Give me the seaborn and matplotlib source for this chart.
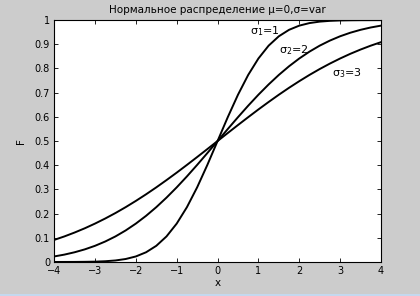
import matplotlib
matplotlib.use("Agg")
import matplotlib.pyplot as plt
import matplotlib.patches as mpatches
import seaborn as sns
import pandas as pd

x_vals = [-4.0, -3.75, -3.5, -3.25, -3.0, -2.75, -2.5, -2.25, -2.0, -1.75, -1.5, -1.25, -1.0, -0.75, -0.5, -0.25,
          0.0, 0.25, 0.5, 0.75, 1.0, 1.25, 1.5, 1.75, 2.0, 2.25, 2.5, 2.75, 3.0, 3.25, 3.5, 3.75, 4.0]
F_sigma1 = [0.0000, 0.0001, 0.0002, 0.0006, 0.0013, 0.0030, 0.0062, 0.0122, 0.0228, 0.0401, 0.0668, 0.1056,
            0.1587, 0.2266, 0.3085, 0.4013, 0.5000, 0.5987, 0.6915, 0.7734, 0.8413, 0.8944, 0.9332, 0.9599,
            0.9772, 0.9878, 0.9938, 0.9970, 0.9987, 0.9994, 0.9998, 0.9999, 1.0000]
F_sigma2 = [0.0228, 0.0304, 0.0401, 0.0521, 0.0668, 0.0846, 0.1056, 0.1303, 0.1587, 0.1908, 0.2266, 0.2660,
            0.3085, 0.3538, 0.4013, 0.4503, 0.5000, 0.5497, 0.5987, 0.6462, 0.6915, 0.7340, 0.7734, 0.8092,
            0.8413, 0.8697, 0.8944, 0.9154, 0.9332, 0.9479, 0.9599, 0.9696, 0.9772]
F_sigma3 = [0.0912, 0.1056, 0.1217, 0.1393, 0.1587, 0.1797, 0.2023, 0.2266, 0.2525, 0.2798, 0.3085, 0.3385,
            0.3694, 0.4013, 0.4338, 0.4668, 0.5000, 0.5332, 0.5662, 0.5987, 0.6306, 0.6615, 0.6915, 0.7202,
            0.7475, 0.7734, 0.7977, 0.8203, 0.8413, 0.8607, 0.8783, 0.8944, 0.9088]
series_names = ["σ1=1", "σ2=2", "σ3=3"]
label_texts = [r"$\mathregular{\sigma_1}$=1", r"$\mathregular{\sigma_2}$=2", r"$\mathregular{\sigma_3}$=3"]
label_pos = [(0.8, 0.955), (1.5, 0.875), (2.8, 0.78)]
title = "Нормальное распределение μ=0,σ=var"

rows = []
for name, ys in zip(series_names, [F_sigma1, F_sigma2, F_sigma3]):
    for xv, yv in zip(x_vals, ys):
        rows.append({"x": xv, "F": yv, "s": name})
df = pd.DataFrame(rows)

plt.rcParams["font.family"] = ["DejaVu Sans"]
plt.rcParams["mathtext.fontset"] = "dejavusans"
fig = plt.figure(figsize=(4.2, 2.96), dpi=100, facecolor="#cccccc")
fig.patches.append(mpatches.Rectangle((0, 0), 1, 2 / 296, transform=fig.transFigure,
                                      facecolor="#c4d8ee", edgecolor="none", zorder=-1))
ax = fig.add_axes([0.129, 0.115, 0.778, 0.817])
sns.lineplot(data=df, x="x", y="F", units="s", estimator=None, color="black", lw=1.4, ax=ax, legend=False)

ax.set_xlim(-4, 4)
ax.set_ylim(0, 1)
ax.set_xticks(range(-4, 5))
ax.set_yticks([i / 10 for i in range(11)])
ax.set_yticklabels(["0"] + [f"{i/10:g}" for i in range(1, 10)] + ["1"])
ax.tick_params(direction="in", top=True, right=True, labelsize=7, length=3, width=0.6, pad=3)
for sp in ax.spines.values():
    sp.set_linewidth(0.8)
ax.set_facecolor("white")
ax.set_xlabel("x", fontsize=7.5, labelpad=1)
ax.set_ylabel("F", fontsize=7.5, labelpad=6)
ax.set_title(title, fontsize=7.5, pad=5)
for t, (px, py) in zip(label_texts, label_pos):
    ax.text(px, py, t, fontsize=8, ha="left", va="center")

fig.savefig("out.png", dpi=100, facecolor=fig.get_facecolor())
